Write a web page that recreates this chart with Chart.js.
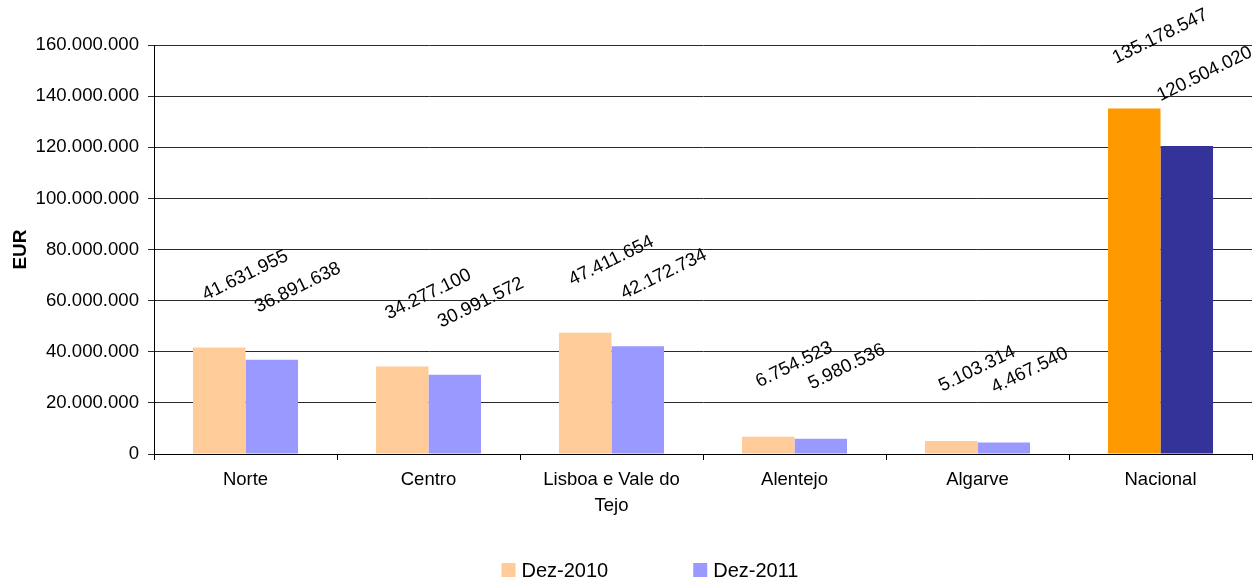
<!DOCTYPE html>
<html>
<head>
<meta charset="utf-8">
<script src="https://cdn.jsdelivr.net/npm/chart.js@4/dist/chart.umd.min.js"></script>
<style>
    body { margin: 0; background: #fff; }
    #chart { display: block; }
</style>
</head>
<body>
<canvas id="chart" width="1254" height="578"></canvas>
<script>
// Regional totals, Dez-2010 vs Dez-2011 (EUR)
const regions = ['Norte', 'Centro', ['Lisboa e Vale do', 'Tejo'], 'Alentejo', 'Algarve', 'Nacional'];
const seriesNames = ['Dez-2010', 'Dez-2011'];
const values2010 = [41631955, 34277100, 47411654, 6754523, 5103314, 135178547];
const values2011 = [36891638, 30991572, 42172734, 5980536, 4467540, 120504020];
const yTicks = [0, 20000000, 40000000, 60000000, 80000000, 100000000, 120000000, 140000000, 160000000];

const FONT = 'Liberation Sans, Arial, sans-serif';
const lightColors = ['#FFCC99', '#9999FF'];
const darkColors = ['#FF9900', '#333399'];

// thousands with dots, like the Portuguese original
const fmt = (v) => String(v).replace(/\B(?=(\d{3})+(?!\d))/g, '.');

// last category (Nacional) gets the strong colours
const barColors = (i) => regions.map((r, idx) => idx === regions.length - 1 ? darkColors[i] : lightColors[i]);

const valueLabels = {
    id: 'valueLabels',
    afterDatasetsDraw(chart) {
        const ctx = chart.ctx;
        const angle = -26 * Math.PI / 180;
        ctx.save();
        ctx.font = '18.6px ' + FONT;
        ctx.fillStyle = '#000';
        ctx.textAlign = 'center';
        ctx.textBaseline = 'middle';
        chart.data.datasets.forEach((ds, di) => {
            chart.getDatasetMeta(di).data.forEach((bar, i) => {
                const text = fmt(ds.data[i]);
                const w = ctx.measureText(text).width;
                const halfW = (w * Math.cos(-angle) + 13 * Math.sin(-angle)) / 2;
                const halfH = (w * Math.sin(-angle) + 13 * Math.cos(-angle)) / 2;
                let x = bar.x + 26;
                let y = bar.y - 72;
                x = Math.min(x, chart.width - halfW);
                y = Math.max(y, halfH);
                ctx.save();
                ctx.translate(x, y);
                ctx.rotate(angle);
                ctx.fillText(text, 0, 0);
                ctx.restore();
            });
        });
        ctx.restore();
    }
};

const bottomLegend = {
    id: 'bottomLegend',
    afterDraw(chart) {
        const ctx = chart.ctx;
        ctx.save();
        ctx.font = '20px ' + FONT;
        const box = 14, gapText = 6, gapItem = 85;
        const widths = seriesNames.map((n) => box + gapText + ctx.measureText(n).width);
        const total = widths.reduce((a, b) => a + b, 0) + gapItem * (widths.length - 1);
        let x = chart.width / 2 + 23 - total / 2;
        ctx.textBaseline = 'alphabetic';
        ctx.textAlign = 'left';
        seriesNames.forEach((name, i) => {
            ctx.fillStyle = lightColors[i];
            ctx.fillRect(x, 563, box, box);
            ctx.fillStyle = '#000';
            ctx.fillText(name, x + box + gapText, 577);
            x += widths[i] + gapItem;
        });
        ctx.restore();
    }
};

new Chart(document.getElementById('chart').getContext('2d'), {
    type: 'bar',
    data: {
        labels: regions,
        datasets: [
            { label: seriesNames[0], data: values2010, backgroundColor: barColors(0) },
            { label: seriesNames[1], data: values2011, backgroundColor: barColors(1) },
        ]
    },
    options: {
        responsive: false,
        animation: false,
        categoryPercentage: 0.574,
        barPercentage: 1.0,
        layout: { padding: { top: 45, right: 2, left: 0, bottom: 0 } },
        plugins: { legend: { display: false }, tooltip: { enabled: false } },
        scales: {
            x: {
                afterFit: (scale) => { scale.height = 124; },
                grid: { offset: true, drawOnChartArea: false, drawTicks: true, tickLength: 6, color: '#000' },
                border: { color: '#000', width: 1 },
                ticks: {
                    color: '#000', maxRotation: 0, autoSkip: false, padding: 7,
                    font: { family: FONT, size: 18.5, lineHeight: 1.42 }
                }
            },
            y: {
                min: 0, max: 160000000,
                afterFit: (scale) => { scale.width = 154; },
                afterBuildTicks: (scale) => { scale.ticks = yTicks.map((v) => ({ value: v })); },
                grid: { color: '#2a2a2a', lineWidth: 1, drawTicks: true, tickLength: 6 },
                border: { color: '#000', width: 1 },
                ticks: {
                    color: '#000', padding: 9,
                    font: { family: FONT, size: 18.6 },
                    callback: (v) => fmt(v)
                },
                title: {
                    display: true, text: 'EUR', color: '#000',
                    padding: { top: 9, bottom: 0 },
                    font: { family: FONT, size: 19, weight: 'bold' }
                }
            }
        }
    },
    plugins: [valueLabels, bottomLegend]
});
</script>
</body>
</html>
